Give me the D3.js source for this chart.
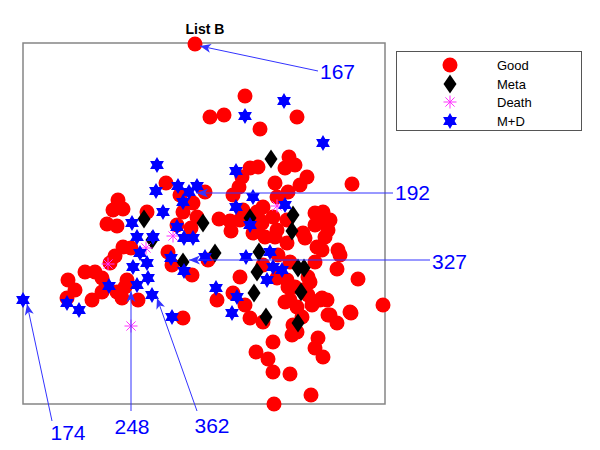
<!DOCTYPE html>
<html><head><meta charset="utf-8">
<script src="https://cdn.jsdelivr.net/npm/d3@7"></script>
<style>body{margin:0;background:#fff}svg{display:block}text{font-family:"Liberation Sans",Arial,Helvetica,sans-serif}</style>
</head><body>
<script>
// ---- data ----
const goodX = [17.2,22.2,18.7,20.1,27.4,23.7,32.9,36.0,14.3,18.2,15.7,9.5,9.0,10.0,8.4,9.4,12.4,16.0,17.0,17.4,15.4,16.8,19.6,20.7,20.8,21.7,22.0,23.4,22.7,21.9,21.6,21.0,23.5,
10.0,10.8,9.2,8.7,6.2,7.2,7.9,4.5,5.2,4.4,6.9,7.9,9.4,9.9,10.4,10.2,11.5,
14.5,14.9,16.9,18.5,21.7,19.4,21.0,22.2,22.7,16.0,23.0,
33.5,32.8,31.5,29.4,31.4,29.2,29.7,30.5,31.4,29.5,29.2,30.0,26.9,25.0,23.3,24.5,25.0,26.7,28.8,25.1,23.9,28.0,29.2,30.4,28.0,26.7,28.7,30.4,27.0,27.9,27.2,25.4,27.4,
26.6,27.2,26.2,28.4,27.7,25.2,26.5,25.4,24.0,23.7,25.0,25.4,26.4,29.2,30.0,29.9,30.7,30.5,30.2,24.2,23.2,
25.2,26.4,28.2,29.9,31.7,28.5,26.5,26.4,29.9,30.7,32.7,28.9,27.4,24.0,26.2,28.5,26.7,25.5,24.0];
const goodY = [36.0,30.8,28.7,28.9,28.7,27.5,22.0,9.9,22.1,21.2,20.9,20.4,19.4,19.5,18.0,17.8,19.2,19.2,20.1,18.7,17.9,17.6,18.5,18.3,17.3,18.4,19.4,19.2,23.6,22.7,21.7,20.9,23.7,
15.7,15.6,14.8,14.1,13.2,13.2,12.6,12.4,11.4,10.6,10.4,11.2,11.2,10.6,12.4,11.7,10.4,
15.2,13.9,12.9,14.4,12.7,10.4,11.1,9.9,8.6,8.6,17.1,
12.5,9.1,15.4,15.7,13.5,14.2,10.4,8.9,8.1,6.6,5.6,4.7,6.9,6.2,5.2,4.5,3.2,3.0,0.9,0.0,18.1,17.1,17.9,17.9,11.4,10.4,12.2,10.4,7.9,8.7,11.7,12.6,9.7,
24.7,23.9,23.6,22.7,21.9,22.1,21.2,20.7,19.7,18.4,18.7,17.4,18.4,19.1,19.2,18.2,18.4,17.4,16.7,16.7,17.4,
16.7,16.1,16.6,15.4,14.9,12.7,11.7,12.4,10.6,8.9,9.2,9.9,7.2,8.2,10.2,10.9,14.2,14.9,13.9];

const metaX = [24.8,12.1,12.9,18.0,22.7,27.0,26.9,19.2,16.0,23.6,23.4,27.5,28.1,27.8,23.1,24.3,27.5];
const metaY = [24.5,18.5,16.4,18.1,18.6,18.9,17.3,15.1,14.2,15.2,13.2,13.6,13.6,11.2,11.1,8.7,8.1];

const deathX = [8.5,12.3,10.8,15.0,25.4];
const deathY = [14.0,15.6,7.8,16.8,19.8];

const mdX = [0.0,13.4,13.3,15.5,16.6,17.4,16.0,14.0,10.9,15.4,26.1,22.2,30.0,21.3,23.0,21.3,22.7,11.4,13.0,11.7,11.0,12.4,12.5,11.4,8.6,4.4,5.6,12.9,16.1,17.0,14.8,18.2,16.1,19.3,21.4,20.9,14.9,22.3,24.7,25.0,25.9,24.4,26.2];
const mdY = [10.4,23.9,21.3,21.8,21.2,21.8,20.2,19.2,18.1,17.7,30.3,28.8,26.1,23.3,20.7,19.7,17.9,16.7,16.7,15.1,13.7,14.1,12.6,11.9,11.8,10.1,9.4,10.9,16.6,16.6,14.6,14.7,13.3,11.6,10.7,9.1,8.7,14.7,15.2,13.7,13.4,12.4,19.9];

const seriesNames = ["Good","Meta","Death","M+D"];
const title = "List B";

// annotations: label, arrow tip (data), arrow tail (data)
const annLabels = ["167","192","327","174","248","362"];
const annTipX  = [17.7,17.4,16.6,0.4,10.8,13.4];
const annTipY  = [35.8,21.1,14.4,10.0,11.3,10.6];
const annTailX = [29.5,37.0,40.7,2.9,10.8,17.4];
const annTailY = [33.3,21.1,14.4,-1.7,-0.7,-0.7];

// ---- layout ----
const W = 600, H = 450;
const svg = d3.select("body").append("svg").attr("width", W).attr("height", H);
const x = d3.scaleLinear().domain([0, 36.2]).range([23, 385]);
const y = d3.scaleLinear().domain([0, 36.1]).range([404, 43]);

const colors = {Good:"#ff0000", Meta:"#000000", Death:"#ff33ff", MD:"#0000ff"};

function hexagram(r){
  const ri = r/Math.sqrt(3), pts=[];
  for(let i=0;i<12;i++){
    const a = -Math.PI/2 + i*Math.PI/6;
    const rr = i%2===0 ? r : ri;
    pts.push([rr*Math.cos(a), rr*Math.sin(a)]);
  }
  return "M"+pts.map(p=>p.join(",")).join("L")+"Z";
}
const diamondPath = (w,h)=>`M0,${-h}L${w},0L0,${h}L${-w},0Z`;
function asterisk(g, r){
  const d = r*Math.SQRT1_2;
  g.append("path").attr("d",`M0,${-r}L0,${r}M${-r},0L${r},0M${-d},${-d}L${d},${d}M${-d},${d}L${d},${-d}`)
   .attr("stroke",colors.Death).attr("stroke-width",1).attr("fill","none");
}

// frame
svg.append("rect").attr("x",x(0)).attr("y",y(36.1)).attr("width",x(36.2)-x(0)).attr("height",y(0)-y(36.1))
  .attr("fill","none").attr("stroke","#858585").attr("stroke-width",1.5);

svg.append("text").attr("x",(x(0)+x(36.2))/2+1).attr("y",34).attr("text-anchor","middle")
  .attr("font-weight","bold").attr("font-size",14).text(title);

const plot = svg.append("g");
// Good
plot.selectAll("circle.good").data(d3.range(goodX.length)).join("circle").attr("class","good")
  .attr("cx",i=>x(goodX[i])).attr("cy",i=>y(goodY[i])).attr("r",7.5).attr("fill",colors.Good);
// Meta
plot.selectAll("path.meta").data(d3.range(metaX.length)).join("path").attr("class","meta")
  .attr("transform",i=>`translate(${x(metaX[i])},${y(metaY[i])})`).attr("d",diamondPath(6.5,9.5)).attr("fill",colors.Meta);
// Death
plot.selectAll("g.death").data(d3.range(deathX.length)).join("g").attr("class","death")
  .attr("transform",i=>`translate(${x(deathX[i])},${y(deathY[i])})`).each(function(){asterisk(d3.select(this),6.5);});
// M+D
plot.selectAll("path.md").data(d3.range(mdX.length)).join("path").attr("class","md")
  .attr("transform",i=>`translate(${x(mdX[i])},${y(mdY[i])})`).attr("d",hexagram(8)).attr("fill",colors.MD);

// annotations
const annColor = "#3333ff";
const textPos = [
  {dx:2, dy:8, anchor:"start"},
  {dx:2, dy:7, anchor:"start"},
  {dx:2, dy:9, anchor:"start"},
  {dx:16, dy:19, anchor:"middle"},
  {dx:1, dy:23, anchor:"middle"},
  {dx:15, dy:22, anchor:"middle"}
];
annLabels.forEach((lab,i)=>{
  const tx=x(annTipX[i]), ty=y(annTipY[i]), sx=x(annTailX[i]), sy=y(annTailY[i]);
  const ang = Math.atan2(ty-sy, tx-sx);
  const g = svg.append("g");
  g.append("line").attr("x1",sx).attr("y1",sy).attr("x2",tx).attr("y2",ty)
    .attr("stroke",annColor).attr("stroke-width",1);
  g.append("path").attr("d","M0,0L-11,-4.5L-8,0L-11,4.5Z")
    .attr("transform",`translate(${tx},${ty}) rotate(${ang*180/Math.PI})`)
    .attr("fill",annColor);
  const p = textPos[i];
  g.append("text").attr("x",sx+p.dx).attr("y",sy+p.dy).attr("text-anchor",p.anchor)
    .attr("font-size",21).attr("fill","#0000ff").text(lab);
});

// legend
const lg = svg.append("g");
lg.append("rect").attr("x",396.5).attr("y",51.5).attr("width",185).attr("height",79)
  .attr("fill","#fff").attr("stroke","#555").attr("stroke-width",1);
const rowY = [65,84,102,121];
seriesNames.forEach((name,i)=>{
  const gy=rowY[i], gx=450;
  const m = lg.append("g").attr("transform",`translate(${gx},${gy})`);
  if(i===0) m.append("circle").attr("r",7.5).attr("fill",colors.Good);
  if(i===1) m.append("path").attr("d",diamondPath(6.5,9.5)).attr("fill",colors.Meta);
  if(i===2) asterisk(m,6.5);
  if(i===3) m.append("path").attr("d",hexagram(8)).attr("fill",colors.MD);
  lg.append("text").attr("x",497).attr("y",gy+5).attr("font-size",13).attr("fill","#000").text(name);
});
</script>
</body></html>
